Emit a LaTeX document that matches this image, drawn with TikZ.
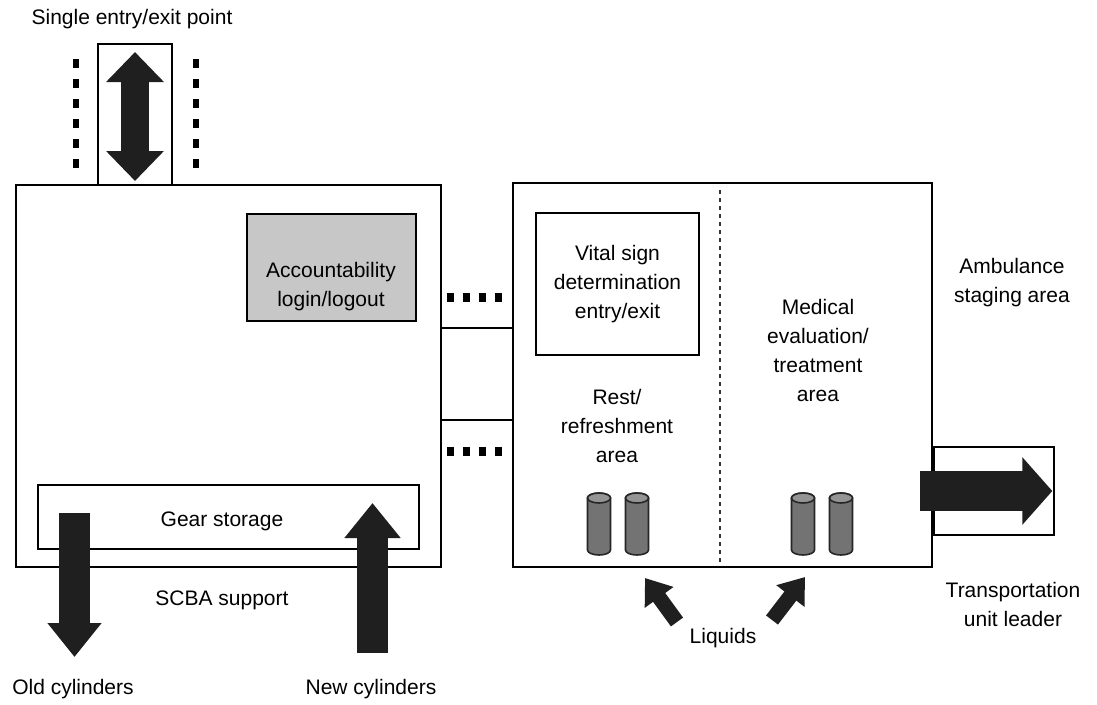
\documentclass[tikz,border=0pt]{standalone}
\usepackage{fontspec}
\setmainfont{Liberation Sans}
\usetikzlibrary{arrows.meta}

\tikzset{
  area/.style={draw, line width=2.2pt, inner sep=0pt},
  lbl/.style={align=center, font=\fontsize{21}{29}\selectfont, inner sep=0pt},
  fatarrow/.style={draw=black!88, line width=#1},
  dotmark/.style={fill=black, minimum width=6pt, minimum height=9pt, inner sep=0pt},
  tank/.style={draw=black!85, fill=black!55, line width=1.6pt}
}

\begin{document}
\begin{tikzpicture}[x=1pt, y=-1pt]
\useasboundingbox (0,0) rectangle (1097,704);
% areas
\node[area, minimum width=425pt, minimum height=382pt] (scba) at (228.5,376) {};
\node[area, minimum width=74pt, minimum height=141pt] (entry) at (135,114.5) {};
\node[area, fill=black!22, minimum width=169pt, minimum height=107pt] (acct) at (331.5,267.5) {};
\node[area, minimum width=381pt, minimum height=64pt] (gear) at (228.5,517) {};
\node[area, minimum width=419pt, minimum height=384pt] (med) at (722.5,375) {};
\node[area, minimum width=163pt, minimum height=142pt] (vital) at (617.5,284) {};
\node[area, minimum width=120pt, minimum height=88pt, anchor=west] (trans) at (med.east |- 0,491) {};
% labels
\node[lbl] (entrylbl) at (132,19) {Single entry/exit point};
\node[lbl] (acctlbl) at (331,287) {Accountability\\login/logout};
\node[lbl] (vitallbl) at (617.5,284) {Vital sign\\determination\\entry/exit};
\node[lbl] (restlbl) at (617,426) {Rest/\\refreshment\\area};
\node[lbl] (medlbl) at (818,350) {Medical\\evaluation/\\treatment\\area};
\node[lbl] (amblbl) at (1012,283) {Ambulance\\staging area};
\node[lbl] (translbl) at (1013,604) {Transportation\\unit leader};
\node[lbl] (gearlbl) at (222,521) {Gear storage};
\node[lbl] (scbalbl) at (222,600) {SCBA support};
\node[lbl] (oldlbl) at (73,689) {Old cylinders};
\node[lbl] (newlbl) at (371,689) {New cylinders};
\node[lbl] (liqlbl) at (723,638) {Liquids};
% divider
\draw[line width=2.4pt, dash pattern=on 4pt off 4pt, black!80] (720,190) -- (720,563);
% links between the two areas
\draw[line width=2.2pt] (scba.east |- 0,328) -- (med.west |- 0,328);
\draw[line width=2.2pt] (scba.east |- 0,420) -- (med.west |- 0,420);
\foreach \x in {450,466,482,498} {
  \node[dotmark, minimum width=7pt] at (\x,297) {};
  \node[dotmark, minimum width=7pt] at (\x,451) {};
}
\foreach \y in {63,83,103,123,143,163} {
  \node[dotmark] at (76,\y) {};
  \node[dotmark] at (196,\y) {};
}
% cylinders
\foreach \x in {599,637,803,841} {
  \draw[tank] (\x-11.5,498) -- (\x-11.5,550) arc[start angle=180, end angle=0, x radius=11.5, y radius=5]
    -- (\x+11.5,498) arc[start angle=0, end angle=-180, x radius=11.5, y radius=5] -- cycle;
  \draw[tank, fill=black!42] (\x,498) ellipse[x radius=11.5, y radius=5];
}
% arrows
\coordinate (entrytop) at (135,52);
\coordinate (entrybot) at (135,181);
\draw[fatarrow=28pt, {Triangle[width=56pt,length=30pt]}-{Triangle[width=56pt,length=30pt]}] (entrytop) -- (entrybot);
\coordinate (oldstart) at (74.5,513);
\coordinate (oldend) at (74.5,657);
\draw[fatarrow=31pt, -{Triangle[width=52pt,length=34pt]}] (oldstart) -- (oldend);
\coordinate (newstart) at (372.5,653);
\coordinate (newend) at (372.5,503);
\draw[fatarrow=31pt, -{Triangle[width=54pt,length=35pt]}] (newstart) -- (newend);
\coordinate (transstart) at (920,491);
\draw[fatarrow=40pt, -{Triangle[width=66pt,length=30pt]}] (transstart) -- ([xshift=-3pt]trans.east);
\coordinate (liqa) at (677,622);
\coordinate (liqb) at (772,620);
\draw[fatarrow=15pt, -{Triangle[width=34pt,length=24pt]}] (liqa) -- (645,578);
\draw[fatarrow=15pt, -{Triangle[width=34pt,length=24pt]}] (liqb) -- (805,577);
\end{tikzpicture}
\end{document}
